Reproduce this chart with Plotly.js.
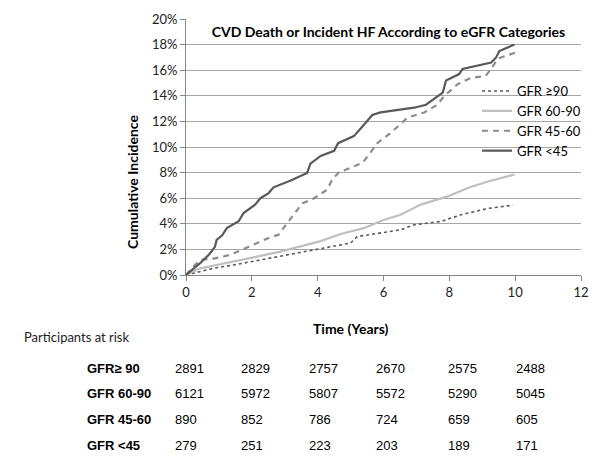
<!DOCTYPE html>
<html>
<head>
<meta charset="utf-8">
<script src="https://cdn.plot.ly/plotly-3.0.1.min.js"></script>
<style>
  html, body { margin: 0; padding: 0; background: #fff; }
  #chart { width: 600px; height: 465px; }
</style>
</head>
<body>
<div id="chart"></div>
<script>
// curve readings, time in years, incidence in %
const gfr90X = [0, 0.22, 0.83, 1.44, 2.26, 3.07, 3.88, 4.7, 5.0, 5.2, 6.52, 6.93, 7.74, 8.35, 9.17, 9.93];
const gfr90Y = [0, 0.13, 0.52, 0.78, 1.18, 1.57, 1.96, 2.35, 2.5, 3.0, 3.53, 3.92, 4.18, 4.7, 5.2, 5.45];

const gfr6090X = [0, 0.43, 0.93, 1.44, 2.15, 2.87, 3.48, 4.09, 4.7, 5.4, 6.0, 6.52, 7.13, 7.95, 8.56, 9.17, 9.98];
const gfr6090Y = [0, 0.52, 0.78, 1.04, 1.43, 1.83, 2.22, 2.65, 3.2, 3.66, 4.3, 4.7, 5.5, 6.14, 6.8, 7.3, 7.85];

const gfr4560X = [0, 0.2, 0.43, 0.88, 1.34, 1.8, 2.15, 2.56, 2.81, 3.07, 3.27, 3.53, 3.83, 4.29, 4.44, 4.64,
  5.36, 5.56, 5.81, 6.22, 6.73, 7.24, 7.64, 7.85, 8.25, 8.66, 9.1, 9.27, 9.47, 10.03];
const gfr4560Y = [0, 0.6, 1.18, 1.3, 1.57, 2.1, 2.5, 2.95, 3.14, 4.05, 4.7, 5.6, 5.9, 6.67, 7.45, 8.0,
  8.76, 9.4, 10.3, 11.1, 12.3, 12.7, 13.3, 14.0, 14.9, 15.4, 15.55, 16.1, 16.9, 17.4];

const gfr45X = [0, 0.2, 0.43, 0.7, 0.88, 0.93, 1.1, 1.24, 1.6, 1.75, 1.9, 2.1, 2.26, 2.51, 2.66, 3.2, 3.68,
  3.78, 4.09, 4.5, 4.62, 5.1, 5.36, 5.66, 5.91, 6.93, 7.29, 7.49, 7.8, 7.9, 8.3, 8.4, 9.27, 9.42, 9.52, 9.98];
const gfr45Y = [0, 0.4, 0.92, 1.6, 2.2, 2.75, 3.1, 3.66, 4.2, 4.84, 5.1, 5.5, 6.0, 6.4, 6.85, 7.4, 7.97,
  8.7, 9.3, 9.7, 10.3, 10.85, 11.6, 12.5, 12.7, 13.07, 13.3, 13.7, 14.25, 15.2, 15.7, 16.1, 16.6, 17.0, 17.5, 18.0];

const seriesNames = ['GFR \u226590', 'GFR 60-90', 'GFR 45-60', 'GFR <45'];

// participants at risk table
const riskLabels = ['GFR\u2265 90', 'GFR 60-90', 'GFR 45-60', 'GFR <45'];
const riskTimes = [0, 2, 4, 6, 8, 10];
const risk90 = [2891, 2829, 2757, 2670, 2575, 2488];
const risk6090 = [6121, 5972, 5807, 5572, 5290, 5045];
const risk4560 = [890, 852, 786, 724, 659, 605];
const risk45 = [279, 251, 223, 203, 189, 171];

const W = 600, H = 465;
const mL = 186, mR = 19, mT = 19, mB = 190;
const pw = W - mL - mR, ph = H - mT - mB;
const px = (x) => (x - mL) / pw;
const py = (y) => (H - mB - y) / ph;

const calib = 'Lato, "Open Sans", sans-serif';
const arial = '"Liberation Sans", Arial, sans-serif';

const traces = [
  { x: gfr90X, y: gfr90Y, name: seriesNames[0], mode: 'lines', line: { color: '#595959', width: 1.6, dash: 'dot' } },
  { x: gfr6090X, y: gfr6090Y, name: seriesNames[1], mode: 'lines', line: { color: '#bfbfbf', width: 2.2 } },
  { x: gfr4560X, y: gfr4560Y, name: seriesNames[2], mode: 'lines', line: { color: '#8c8c8c', width: 2.2, dash: '6px,5px' } },
  { x: gfr45X, y: gfr45Y, name: seriesNames[3], mode: 'lines', line: { color: '#595959', width: 2.2 } },
];

// table annotations
const colPx = [173, 239, 307, 374, 446, 514];
const rowPx = [368, 393, 419, 445];
const riskRows = [risk90, risk6090, risk4560, risk45];
const annotations = [
  { text: '<b>Cumulative Incidence</b>', xref: 'paper', yref: 'paper', x: px(132), y: py(182), textangle: -90,
    showarrow: false, font: { family: calib, size: 14, color: '#000' }, xanchor: 'center', yanchor: 'middle' },
  { text: '<b>Time (Years)</b>', xref: 'paper', yref: 'paper', x: px(351), y: py(328),
    showarrow: false, font: { family: calib, size: 14, color: '#000' }, xanchor: 'center', yanchor: 'middle' },
  { text: 'Participants at risk', xref: 'paper', yref: 'paper', x: px(22), y: py(337),
    showarrow: false, font: { family: calib, size: 13, color: '#222' }, xanchor: 'left', yanchor: 'middle' },
];
riskLabels.forEach((label, i) => {
  annotations.push({ text: '<b>' + label + '</b>', xref: 'paper', yref: 'paper', x: px(85), y: py(rowPx[i]),
    showarrow: false, font: { family: arial, size: 13, color: '#000' }, xanchor: 'left', yanchor: 'middle' });
  riskTimes.forEach((t, j) => {
    annotations.push({ text: String(riskRows[i][j]), xref: 'paper', yref: 'paper', x: px(colPx[j]), y: py(rowPx[i]),
      showarrow: false, font: { family: arial, size: 13, color: '#000' }, xanchor: 'left', yanchor: 'middle' });
  });
});

const layout = {
  width: W,
  height: H,
  margin: { l: mL, r: mR, t: mT, b: mB, pad: 0 },
  paper_bgcolor: '#fff',
  plot_bgcolor: '#fff',
  showlegend: true,
  title: {
    text: '<b>CVD Death or Incident HF According to eGFR Categories</b>',
    font: { family: calib, size: 14, color: '#000' },
    xref: 'paper', x: px(388.5), xanchor: 'center',
    yref: 'container', y: 1 - 32 / H, yanchor: 'middle',
  },
  legend: {
    x: px(477), y: py(76), xanchor: 'left', yanchor: 'top',
    bgcolor: 'rgba(0,0,0,0)', borderwidth: 0,
    font: { family: calib, size: 13, color: '#000' },
    tracegroupgap: 0,
  },
  xaxis: {
    range: [0, 12], dtick: 2, tick0: 0,
    showgrid: false, zeroline: false,
    showline: true, linecolor: '#868686', linewidth: 1,
    ticks: 'outside', ticklen: 5, tickcolor: '#868686',
    tickfont: { family: calib, size: 13, color: '#222' },
  },
  yaxis: {
    range: [0, 20], dtick: 2, tick0: 0, ticksuffix: '%',
    showgrid: true, gridcolor: '#a6a6a6', gridwidth: 1, zeroline: false,
    showline: true, linecolor: '#868686', linewidth: 1,
    ticks: 'outside', ticklen: 5, tickcolor: '#868686',
    tickfont: { family: calib, size: 13, color: '#222' },
  },
  annotations,
};

Plotly.newPlot('chart', traces, layout, { displayModeBar: false, staticPlot: true });
</script>
</body>
</html>
